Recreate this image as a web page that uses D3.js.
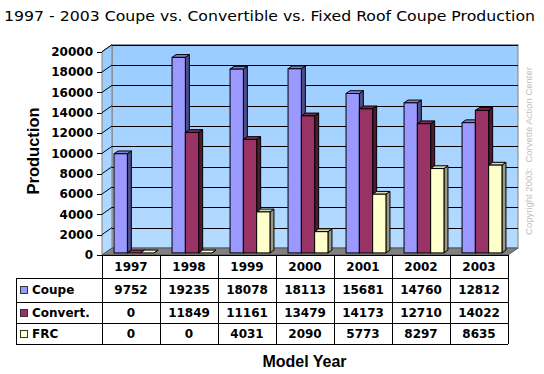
<!DOCTYPE html>
<html>
<head>
<meta charset="utf-8">
<script src="https://cdn.jsdelivr.net/npm/d3@7"></script>
<style>
  html, body { margin: 0; padding: 0; background: #fff; }
  svg { display: block; }
</style>
</head>
<body>
<svg id="chart" width="544" height="374"></svg>
<script>
const years = ["1997", "1998", "1999", "2000", "2001", "2002", "2003"];
const coupe = [9752, 19235, 18078, 18113, 15681, 14760, 12812];
const convert = [0, 11849, 11161, 13479, 14173, 12710, 14022];
const frc = [0, 0, 4031, 2090, 5773, 8297, 8635];
const seriesNames = ["Coupe", "Convert.", "FRC"];
const yTicks = [0, 2000, 4000, 6000, 8000, 10000, 12000, 14000, 16000, 18000, 20000];

const COLORS = {
  Coupe: { front: "#9999ff", top: "#8080d9", side: "#4d4d8c" },
  "Convert.": { front: "#993366", top: "#7a2952", side: "#4d1a33" },
  FRC: { front: "#ffffcc", top: "#d9d9ad", side: "#999980" },
  wallTop: "#99ccff",
  wallBottom: "#b5dbff",
  floor: "#808080",
  border: "#808080",
  copyright: "#c0c0c0"
};

const left = 102;
const right = 508;
const DX = 10;   // depth offset of the back wall
const DY = -7;
const rowLines = [255, 278, 302, 323, 344];
const tableLeft = 16;

const svg = d3.select("#chart");
const fontBold = "'DejaVu Sans', Verdana, sans-serif";
const fontArial = "'Liberation Sans', Arial, sans-serif";

const x = d3.scaleBand().domain(years).range([left, right]).padding(0);
const xs = d3.scaleBand().domain(seriesNames).range([0, x.bandwidth()])
  .paddingInner(0).paddingOuter(0.68);
const y = d3.scaleLinear().domain([0, 20000]).range([255, 51.7]);

const series = seriesNames.map((name, j) => ({
  name,
  values: [coupe, convert, frc][j]
}));

drawTitle();
drawWalls();
drawBars();
drawTable();
drawLabels();

function drawTitle() {
  svg.append("text")
    .attr("x", 4)
    .attr("y", 21)
    .attr("textLength", 531)
    .attr("lengthAdjust", "spacingAndGlyphs")
    .style("font-family", fontBold)
    .style("font-size", "14px")
    .style("fill", "#000")
    .text("1997 - 2003 Coupe vs. Convertible vs. Fixed Roof Coupe Production");
}

function drawWalls() {
  const defs = svg.append("defs");
  const grad = defs.append("linearGradient")
    .attr("id", "wall")
    .attr("x1", 0).attr("y1", 0).attr("x2", 0).attr("y2", 1);
  grad.append("stop").attr("offset", "0%").attr("stop-color", COLORS.wallTop);
  grad.append("stop").attr("offset", "100%").attr("stop-color", COLORS.wallBottom);

  const yTop = y(20000);
  const y0 = y(0);

  // back wall
  svg.append("rect")
    .attr("x", left + DX)
    .attr("y", yTop + DY)
    .attr("width", right - left)
    .attr("height", y0 - yTop)
    .style("fill", "url(#wall)")
    .style("stroke", COLORS.border);

  // side wall
  svg.append("polygon")
    .attr("points", [
      [left, yTop], [left + DX, yTop + DY], [left + DX, y0 + DY], [left, y0]
    ].join(" "))
    .style("fill", "url(#wall)")
    .style("stroke", COLORS.border);

  // gridlines
  const grid = svg.append("g");
  grid.selectAll(".back")
    .data(yTicks.slice(1))
    .enter()
    .append("line")
    .attr("x1", left + DX)
    .attr("x2", right + DX)
    .attr("y1", d => Math.round(y(d) + DY) + 0.5)
    .attr("y2", d => Math.round(y(d) + DY) + 0.5)
    .style("stroke", "#000");
  grid.selectAll(".side")
    .data(yTicks.slice(1))
    .enter()
    .append("line")
    .attr("x1", left)
    .attr("x2", left + DX)
    .attr("y1", d => y(d))
    .attr("y2", d => y(d) + DY)
    .style("stroke", "#000");

  // floor
  svg.append("polygon")
    .attr("points", [
      [left, y0], [left + DX, y0 + DY], [right + DX, y0 + DY], [right, y0]
    ].join(" "))
    .style("fill", COLORS.floor)
    .style("stroke", "#555");

  // y ticks and labels
  const ticks = svg.append("g");
  ticks.selectAll("line")
    .data(yTicks)
    .enter()
    .append("line")
    .attr("x1", 97)
    .attr("x2", left)
    .attr("y1", d => Math.round(y(d)) + 0.5)
    .attr("y2", d => Math.round(y(d)) + 0.5)
    .style("stroke", "#000");
  ticks.selectAll("text")
    .data(yTicks)
    .enter()
    .append("text")
    .attr("x", 93)
    .attr("y", d => y(d))
    .attr("dy", "0.36em")
    .attr("text-anchor", "end")
    .style("font-family", fontBold)
    .style("font-weight", "bold")
    .style("font-size", "12px")
    .text(d => d);
}

function drawBars() {
  const f0 = 0.3;
  const fd = 0.4;
  const bdx = DX * fd;
  const bdy = DY * fd;
  const w = xs.bandwidth();

  years.forEach((yr, i) => {
    const g = svg.append("g");
    series.forEach(s => {
      const v = s.values[i];
      const c = COLORS[s.name];
      const fx = x(yr) + xs(s.name) + DX * f0;
      const fy0 = y(0) + DY * f0;
      const fy1 = y(v) + DY * f0;

      g.append("polygon")
        .attr("points", [
          [fx + w, fy0], [fx + w + bdx, fy0 + bdy], [fx + w + bdx, fy1 + bdy], [fx + w, fy1]
        ].join(" "))
        .style("fill", c.side)
        .style("stroke", "#000")
        .style("stroke-linejoin", "round");
      g.append("polygon")
        .attr("points", [
          [fx, fy1], [fx + bdx, fy1 + bdy], [fx + w + bdx, fy1 + bdy], [fx + w, fy1]
        ].join(" "))
        .style("fill", v === 0 ? c.front : c.top)
        .style("stroke", "#000")
        .style("stroke-linejoin", "round");
      if (v > 0) {
        g.append("rect")
          .attr("x", fx)
          .attr("y", fy1)
          .attr("width", w)
          .attr("height", fy0 - fy1)
          .style("fill", c.front)
          .style("stroke", "#000");
      }
    });
  });
}

function drawTable() {
  const t = svg.append("g");
  const cx = d => x(d) + x.bandwidth() / 2;
  const mid = k => (rowLines[k] + rowLines[k + 1]) / 2;

  // horizontal rules
  t.append("line")
    .attr("x1", 97).attr("x2", right)
    .attr("y1", rowLines[0] + 0.5).attr("y2", rowLines[0] + 0.5)
    .style("stroke", "#000");
  t.selectAll(".hr")
    .data(rowLines.slice(1))
    .enter()
    .append("line")
    .attr("x1", tableLeft).attr("x2", right)
    .attr("y1", d => d + 0.5).attr("y2", d => d + 0.5)
    .style("stroke", "#000");

  // vertical rules
  const edges = years.map(d => x(d)).concat([right]);
  t.selectAll(".vr")
    .data(edges)
    .enter()
    .append("line")
    .attr("x1", d => Math.round(d) + 0.5).attr("x2", d => Math.round(d) + 0.5)
    .attr("y1", rowLines[0]).attr("y2", rowLines[4])
    .style("stroke", "#000");
  t.append("line")
    .attr("x1", tableLeft + 0.5).attr("x2", tableLeft + 0.5)
    .attr("y1", rowLines[1]).attr("y2", rowLines[4])
    .style("stroke", "#000");

  // header
  t.selectAll(".yr")
    .data(years)
    .enter()
    .append("text")
    .attr("x", cx)
    .attr("y", mid(0))
    .attr("dy", "0.36em")
    .attr("text-anchor", "middle")
    .style("font-family", fontBold)
    .style("font-weight", "bold")
    .style("font-size", "12px")
    .text(d => d);

  // series rows
  series.forEach((s, j) => {
    const ym = mid(j + 1);
    t.append("rect")
      .attr("x", 20.5)
      .attr("y", Math.round(ym - 4) + 0.5)
      .attr("width", 7)
      .attr("height", 7)
      .style("fill", COLORS[s.name].front)
      .style("stroke", "#333");
    t.append("text")
      .attr("x", 32)
      .attr("y", ym)
      .attr("dy", "0.36em")
      .style("font-family", fontBold)
      .style("font-weight", "bold")
      .style("font-size", "12px")
      .text(s.name);
    t.selectAll(".v" + j)
      .data(s.values)
      .enter()
      .append("text")
      .attr("x", (d, i) => cx(years[i]))
      .attr("y", ym)
      .attr("dy", "0.36em")
      .attr("text-anchor", "middle")
      .style("font-family", fontBold)
      .style("font-weight", "bold")
      .style("font-size", "12px")
      .text(d => d);
  });
}

function drawLabels() {
  svg.append("text")
    .attr("transform", "translate(39,151) rotate(-90)")
    .attr("text-anchor", "middle")
    .style("font-family", fontArial)
    .style("font-weight", "bold")
    .style("font-size", "16.5px")
    .text("Production");

  svg.append("text")
    .attr("x", 304.5)
    .attr("y", 367)
    .attr("text-anchor", "middle")
    .style("font-family", fontArial)
    .style("font-weight", "bold")
    .style("font-size", "16px")
    .text("Model Year");

  svg.append("text")
    .attr("transform", "translate(531.5,151) rotate(-90)")
    .attr("text-anchor", "middle")
    .style("font-family", fontArial)
    .style("font-size", "9.5px")
    .style("fill", COLORS.copyright)
    .style("white-space", "pre")
    .attr("xml:space", "preserve")
    .text("Copyright 2003:  Corvette Action Center");
}
</script>
</body>
</html>
